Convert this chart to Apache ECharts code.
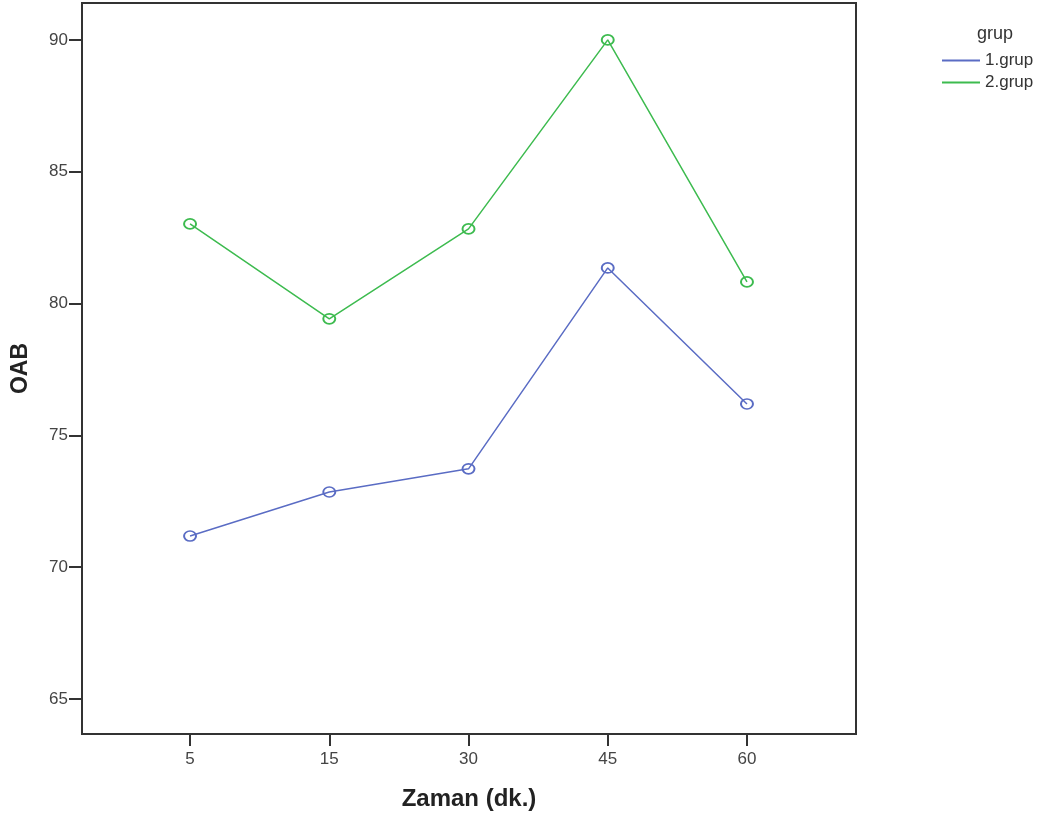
<!DOCTYPE html>
<html>
<head>
<meta charset="utf-8">
<script src="https://cdn.jsdelivr.net/npm/echarts@6/dist/echarts.min.js"></script>
<style>html,body{margin:0;padding:0;background:#fff}#c{width:1056px;height:821px}</style>
</head>
<body>
<div id="c"></div>
<script>
const categories = ['5', '15', '30', '45', '60'];
const group1 = [71.18, 72.85, 73.73, 81.35, 76.19];
const group2 = [83.02, 79.42, 82.83, 90.0, 80.82];
const yTicks = [65, 70, 75, 80, 85, 90];
const seriesNames = ['1.grup', '2.grup'];
const seriesColors = ['#5a6cc4', '#3dbb4f'];

const chart = echarts.init(document.getElementById('c'), null, {renderer: 'canvas'});
const font = 'Liberation Sans, Arial, sans-serif';
const idx = categories.map((_, i) => i);
function pts(vals) { return vals.map((v, i) => [i, v]); }
const ellipse = 'path://M0,5 A5,5 0 1,0 10,5 A5,5 0 1,0 0,5 Z';

function makeSeries(name, vals, color) {
  return {
    name: name, type: 'line', data: pts(vals),
    symbol: ellipse, symbolSize: [12, 10], symbolKeepAspect: false,
    color: color,
    lineStyle: {width: 1.5, color: color},
    itemStyle: {color: 'rgba(255,255,255,0)', borderColor: color, borderWidth: 1.8}
  };
}

chart.setOption({
  animation: false,
  backgroundColor: '#ffffff',
  title: {
    text: 'grup', left: 972, top: 20,
    textStyle: {fontFamily: font, fontSize: 18, fontWeight: 'normal', color: '#333'}
  },
  legend: {
    orient: 'vertical', left: 937, top: 47, itemGap: 5,
    itemWidth: 38, itemHeight: 2,
    icon: 'path://M0,0 L40,0 L40,2 L0,2 Z',
    textStyle: {fontFamily: font, fontSize: 17, color: '#333'},
    data: seriesNames.map((n, i) => ({name: n, itemStyle: {color: seriesColors[i], borderWidth: 0}}))
  },
  grid: {
    left: 82, right: 200, top: 3, bottom: 87,
    show: true, borderColor: '#333', borderWidth: 2, backgroundColor: '#fff'
  },
  xAxis: {
    type: 'value', min: -0.776, max: 4.783,
    name: 'Zaman (dk.)', nameLocation: 'middle', nameGap: 53,
    nameTextStyle: {fontFamily: font, fontSize: 24, fontWeight: 'bold', color: '#222'},
    axisLine: {show: true, onZero: false, lineStyle: {color: '#333', width: 2}},
    axisTick: {show: true, inside: false, customValues: idx, length: 12, lineStyle: {color: '#333', width: 2}},
    axisLabel: {customValues: idx, formatter: v => categories[Math.round(v)], fontFamily: font, fontSize: 17, color: '#444', margin: 17},
    splitLine: {show: false}
  },
  yAxis: {
    type: 'value', min: 63.67, max: 91.4,
    name: 'OAB', nameLocation: 'middle', nameGap: 50, nameRotate: 90,
    nameTextStyle: {fontFamily: font, fontSize: 23, fontWeight: 'bold', color: '#222'},
    axisLine: {show: true, onZero: false, lineStyle: {color: '#333', width: 2}},
    axisTick: {show: true, inside: false, customValues: yTicks, length: 13, lineStyle: {color: '#333', width: 2}},
    axisLabel: {customValues: yTicks, fontFamily: font, fontSize: 17, color: '#444', margin: 14},
    splitLine: {show: false}
  },
  series: [
    makeSeries(seriesNames[0], group1, seriesColors[0]),
    makeSeries(seriesNames[1], group2, seriesColors[1])
  ]
});
</script>
</body>
</html>
